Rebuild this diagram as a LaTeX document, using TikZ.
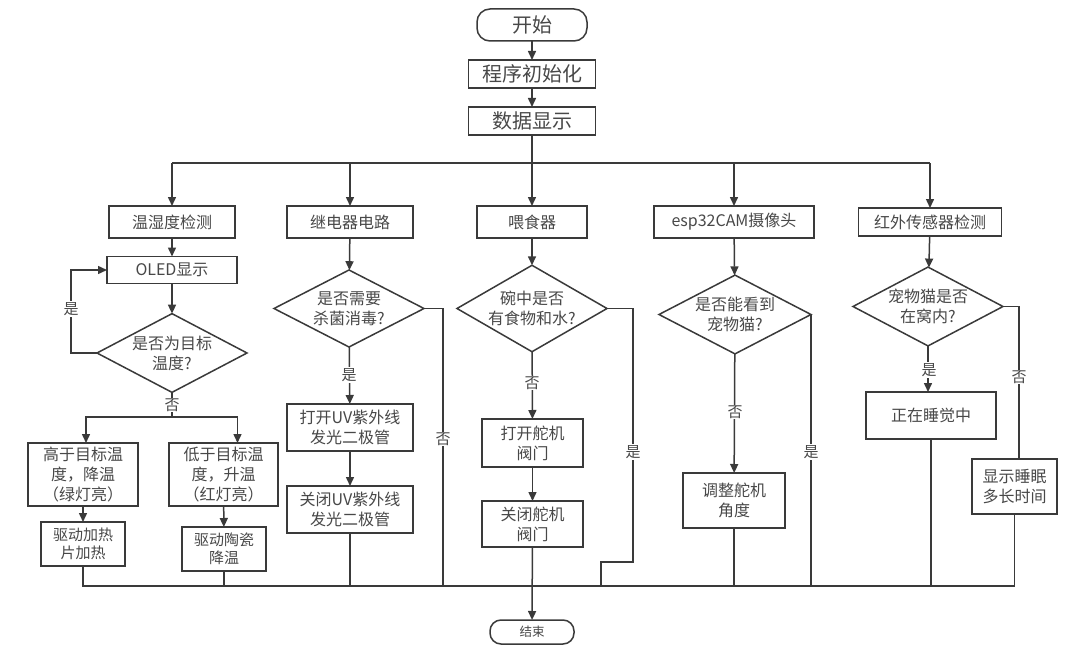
\documentclass[tikz,border=0pt]{standalone}
\usepackage{fontspec}
\setmainfont{Noto Sans CJK SC}
\usetikzlibrary{shapes.geometric,arrows.meta}
\definecolor{lc}{RGB}{58,58,58}
\definecolor{tc}{RGB}{72,72,72}
\begin{document}
\begin{tikzpicture}[x=1pt,y=-1pt,
  line/.style={draw=lc,line width=1.5pt},
  arr/.style={line,-{Triangle[length=9pt,width=8pt]}},
  box/.style={draw=lc,line width=1.5pt,fill=white,text=tc,inner sep=0pt,outer sep=0pt,align=center,font=\fontsize{16}{20}\selectfont},
  sbox/.style={box,font=\fontsize{15}{18}\selectfont},
  bigbox/.style={box,font=\fontsize{20}{24}\selectfont,minimum width=127pt,minimum height=28pt},
  term/.style={box,rounded corners=13pt},
  dia/.style={diamond,draw=lc,line width=1.5pt,fill=white,text=tc,inner sep=-9pt,outer sep=0pt,align=center,font=\fontsize{16}{20}\selectfont,minimum width=150pt,minimum height=77pt},
  lab/.style={fill=white,inner sep=1pt,text=tc,font=\fontsize{15}{15}\selectfont}]
\useasboundingbox (0,0) rectangle (1080,669);
% top
\node[term,font=\fontsize{20}{24}\selectfont,minimum width=110pt,minimum height=32pt] (start) at (532,25) {开始};
\node[bigbox] (init) at (532,74) {程序初始化};
\node[bigbox] (disp) at (532,121) {数据显示};
% row of modules
\node[box,minimum width=126pt,minimum height=32pt] (temp) at (172,222) {温湿度检测};
\node[box,minimum width=126pt,minimum height=32pt] (relay) at (350,222) {继电器电路};
\node[box,minimum width=110pt,minimum height=32pt] (feed) at (532,222) {喂食器};
\node[box,minimum width=160pt,minimum height=32pt] (cam) at (734,222) {esp32CAM摄像头};
\node[box,minimum width=143pt,minimum height=28pt] (ir) at (930,222) {红外传感器检测};
% column 1
\node[box,minimum width=130pt,minimum height=27pt] (oled) at (172,270) {OLED显示};
\node[dia] (q1) at (172,353) {是否为目标\\温度?};
\node[box,minimum width=110pt,minimum height=63pt] (hi) at (83,474.5) {高于目标温\\度，降温\\（绿灯亮）};
\node[box,minimum width=109pt,minimum height=63pt] (lo) at (223.5,474.5) {低于目标温\\度，升温\\（红灯亮）};
\node[sbox,minimum width=84pt,minimum height=44pt] (heat) at (83,544) {驱动加热\\片加热};
\node[sbox,minimum width=84pt,minimum height=44pt] (cool) at (224,549) {驱动陶瓷\\降温};
% column 2
\node[dia] (q2) at (349,308.5) {是否需要\\杀菌消毒?};
\node[box,minimum width=126pt,minimum height=47pt] (uvon) at (350,427.5) {打开UV紫外线\\发光二极管};
\node[box,minimum width=126pt,minimum height=47pt] (uvoff) at (350,509.5) {关闭UV紫外线\\发光二极管};
% column 3
\node[dia] (q3) at (532,308.5) {碗中是否\\有食物和水?};
\node[box,minimum width=101pt,minimum height=48pt] (von) at (532.5,443) {打开舵机\\阀门};
\node[box,minimum width=101pt,minimum height=46pt] (voff) at (532.5,524) {关闭舵机\\阀门};
\node[term,font=\fontsize{12.5}{14}\selectfont,minimum width=84pt,minimum height=24pt,rounded corners=11pt] (end) at (532,632) {结束};
% column 4
\node[dia,minimum width=152pt] (q4) at (735,314.5) {是否能看到\\宠物猫?};
\node[box,minimum width=102pt,minimum height=55pt] (adj) at (734,500.5) {调整舵机\\角度};
% column 5
\node[dia] (q5) at (928,306.5) {宠物猫是否\\在窝内?};
\node[box,minimum width=130pt,minimum height=47pt] (sleep) at (931,415.5) {正在睡觉中};
\node[box,minimum width=85pt,minimum height=55pt] (dur) at (1014.5,486.5) {显示睡眠\\多长时间};
% coordinates
\coordinate (bT) at (0,163);
\coordinate (bB) at (0,586);
% top flow
\draw[arr] (start) -- (init);
\draw[arr] (init) -- (disp);
\draw[arr] (disp) -- (feed);
\draw[line] (temp.north |- bT) -- (ir.north |- bT);
\draw[arr] (temp.north |- bT) -- (temp);
\draw[arr] (relay.north |- bT) -- (relay);
\draw[arr] (cam.north |- bT) -- (cam);
\draw[arr] (ir.north |- bT) -- (ir);
% column 1
\draw[arr] (temp) -- (oled);
\draw[arr] (oled) -- (q1);
\draw[arr] (q1.west) -- ++(-26,0) coordinate (l1) |- (oled.west);
\node[lab] (y1) at (71,309) {是};
\coordinate (s1) at (172,417);
\draw[line] (q1.south) -- (s1);
\node[lab] (n1) at (172,405) {否};
\draw[arr] (s1) -| ([xshift=3pt]hi.north);
\draw[arr] (s1) -| ([xshift=14pt]lo.north);
\draw[arr] (hi) -- (heat);
\draw[arr] (lo) -- (cool);
% column 2
\draw[arr] (relay) -- (q2);
\draw[arr] (q2) -- (uvon);
\node[lab] (y2) at (349,375) {是};
\draw[arr] (uvon) -- (uvoff);
\draw[line] (q2.east) -- ++(19,0) coordinate (c2) -- (c2 |- bB);
\node[lab] (n2) at (443,439) {否};
% column 3
\draw[arr] (feed) -- (q3);
\draw[arr] (q3) -- (von);
\node[lab] (n3) at (532,383) {否};
\draw[arr] (von) -- (voff);
\draw[arr] (voff) -- (end);
\draw[line] (q3.east) -- ++(26,0) coordinate (c3) -- ++(0,253.5) coordinate (c3b) -- ++(-32,0) coordinate (c3c) -- (c3c |- bB);
\node[lab] (y3) at (633,452) {是};
% column 4
\draw[arr] (cam) -- (q4);
\draw[arr] (q4) -- (adj);
\node[lab] (n4) at (735,412) {否};
\draw[line] (q4.east) -- (q4.east |- bB);
\node[lab] (y4) at (811,452) {是};
% column 5
\draw[arr] (ir) -- (q5);
\draw[arr] (q5.south) -- (q5.south |- sleep.north);
\node[lab] (y5) at (929,370) {是};
\draw[line] (q5.east) -| ([xshift=4.5pt]dur.north);
\node[lab] (n5) at (1019,377) {否};
% bottom bus
\draw[line] (heat.south) -- (heat.south |- bB) -- (dur.south |- bB) -- (dur.south);
\draw[line] (cool.south) -- (cool.south |- bB);
\draw[line] (uvoff.south) -- (uvoff.south |- bB);
\draw[line] (adj.south) -- (adj.south |- bB);
\draw[line] (sleep.south) -- (sleep.south |- bB);
\end{tikzpicture}
\end{document}
